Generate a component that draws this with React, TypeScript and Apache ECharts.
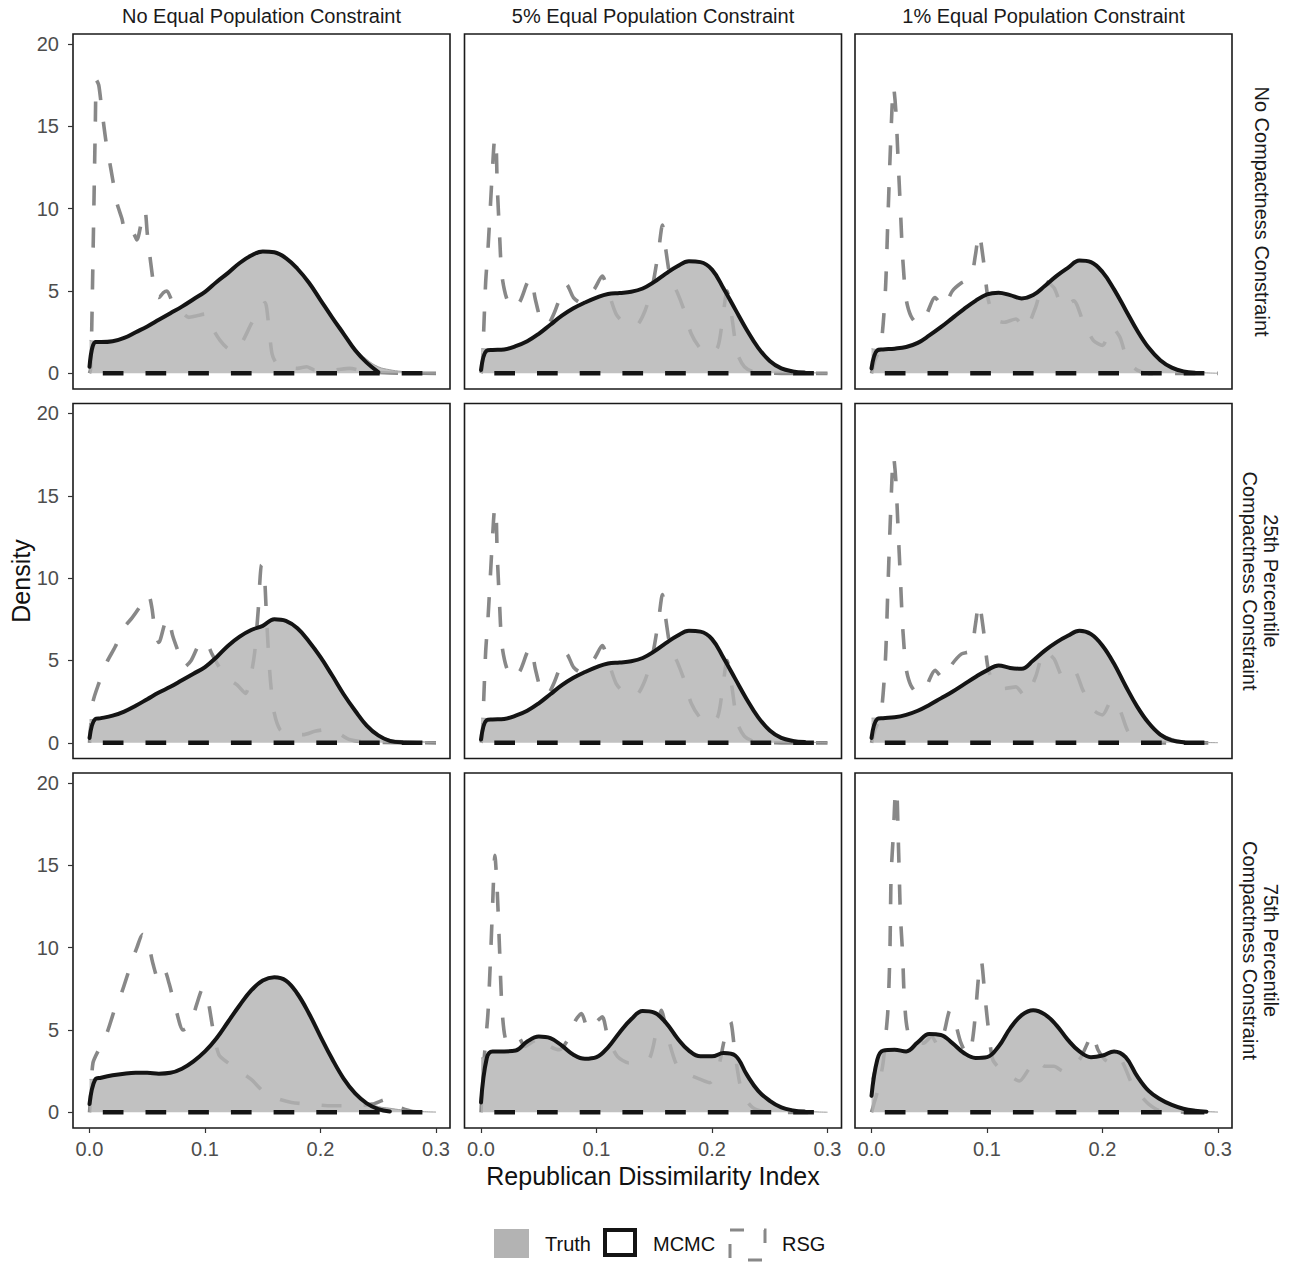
import React, { useEffect, useRef } from "react";
import * as echarts from "echarts";

// ---------- data ----------
const densityX = [0, 0.005, 0.01, 0.02, 0.03, 0.04, 0.05, 0.06, 0.07, 0.08, 0.09, 0.1, 0.11, 0.12, 0.13, 0.14, 0.15, 0.16, 0.17, 0.18, 0.19, 0.2, 0.21, 0.22, 0.23, 0.24, 0.25, 0.26, 0.27, 0.28, 0.29, 0.3];

const colTitles = ["No Equal Population Constraint", "5% Equal Population Constraint", "1% Equal Population Constraint"];
const rowTitles = ["No Compactness Constraint", "25th Percentile\nCompactness Constraint", "75th Percentile\nCompactness Constraint"];
const xTicks = [0, 0.1, 0.2, 0.3];
const yTicks = [0, 5, 10, 15, 20];
const legendNames = ["Truth", "MCMC", "RSG"];

type N = number | null;

// Row 1: No compactness
const truthR1C1: N[] = [2.0, 1.95, 1.95, 2.0, 2.2, 2.55, 2.9, 3.3, 3.7, 4.1, 4.55, 5.0, 5.55, 6.15, 6.75, 7.2, 7.4, 7.3, 6.95, 6.3, 5.45, 4.45, 3.4, 2.45, 1.55, 0.85, 0.4, 0.22, 0.12, 0.07, 0.04, 0.02];
const mcmcR1C1: N[] = [0.4, 1.9, 1.9, 1.95, 2.15, 2.5, 2.85, 3.25, 3.65, 4.05, 4.5, 4.95, 5.55, 6.1, 6.7, 7.15, 7.4, 7.35, 7.0, 6.35, 5.5, 4.45, 3.4, 2.4, 1.4, 0.65, 0.08, null, null, null, null, null];
const rsgR1C1: [number, number][] = [[0, 0], [0.001, 0.3], [0.002, 3], [0.003, 7], [0.004, 11], [0.005, 15], [0.006, 17.8], [0.008, 17.5], [0.0105, 16.1], [0.014, 14.2], [0.0165, 13.2], [0.02, 11.8], [0.0235, 10.4], [0.028, 9.4], [0.032, 8.4], [0.037, 8.6], [0.041, 8.1], [0.045, 9.2], [0.048, 9.9], [0.05, 8.5], [0.053, 6.7], [0.057, 4.8], [0.06, 4.6], [0.064, 4.9], [0.067, 5.0], [0.072, 4.3], [0.08, 3.7], [0.086, 3.4], [0.093, 3.5], [0.1, 3.6], [0.106, 2.8], [0.113, 2.0], [0.12, 1.5], [0.127, 1.4], [0.133, 2.0], [0.14, 3.0], [0.148, 4.0], [0.152, 4.3], [0.155, 3.0], [0.158, 1.2], [0.162, 0.6], [0.17, 0.4], [0.18, 0.3], [0.188, 0.4], [0.195, 0.2], [0.21, 0.2], [0.225, 0.3], [0.24, 0.1], [0.26, 0.02], [0.3, 0]];

const truthR1C2: N[] = [1.5, 1.48, 1.45, 1.5, 1.7, 2.0, 2.45, 3.0, 3.55, 4.0, 4.35, 4.65, 4.85, 4.9, 4.95, 5.15, 5.55, 6.05, 6.5, 6.8, 6.75, 6.3, 5.15, 3.9, 2.65, 1.55, 0.8, 0.35, 0.15, 0.07, 0.03, 0.01];
const mcmcR1C2: N[] = [0.2, 1.38, 1.42, 1.45, 1.65, 1.95, 2.4, 2.95, 3.5, 3.95, 4.3, 4.6, 4.82, 4.88, 4.95, 5.15, 5.55, 6.05, 6.5, 6.8, 6.75, 6.3, 5.15, 3.9, 2.65, 1.55, 0.75, 0.3, 0.12, 0.05, null, null];
const rsgR1C2: [number, number][] = [[0, 0], [0.001, 0.3], [0.002, 2], [0.004, 5.5], [0.006, 7.5], [0.008, 10], [0.01, 12.5], [0.012, 14.3], [0.013, 14.1], [0.014, 11.5], [0.016, 8.5], [0.018, 6.0], [0.022, 4.6], [0.028, 3.9], [0.034, 4.4], [0.04, 5.5], [0.043, 5.8], [0.047, 4.5], [0.052, 3.2], [0.057, 2.9], [0.063, 3.6], [0.07, 4.9], [0.074, 5.4], [0.08, 4.6], [0.086, 4.3], [0.092, 4.7], [0.098, 5.1], [0.105, 5.9], [0.11, 5.0], [0.117, 3.6], [0.125, 3.0], [0.134, 2.9], [0.142, 3.8], [0.149, 5.5], [0.154, 7.6], [0.157, 9.0], [0.16, 7.5], [0.164, 5.8], [0.17, 4.9], [0.176, 3.8], [0.182, 2.4], [0.19, 1.5], [0.198, 1.2], [0.205, 1.6], [0.209, 3.2], [0.213, 5.0], [0.217, 3.5], [0.222, 1.2], [0.228, 0.4], [0.236, 0.1], [0.26, 0], [0.3, 0]];

const truthR1C3: N[] = [1.5, 1.45, 1.45, 1.5, 1.6, 1.85, 2.3, 2.8, 3.35, 3.9, 4.4, 4.8, 4.9, 4.75, 4.55, 4.75, 5.3, 5.9, 6.4, 6.85, 6.75, 6.15, 5.1, 3.85, 2.6, 1.55, 0.85, 0.4, 0.18, 0.08, 0.03, 0.01];
const mcmcR1C3: N[] = [0.3, 1.4, 1.45, 1.5, 1.6, 1.85, 2.3, 2.8, 3.35, 3.9, 4.4, 4.8, 4.9, 4.75, 4.55, 4.75, 5.3, 5.9, 6.4, 6.85, 6.75, 6.15, 5.1, 3.85, 2.6, 1.55, 0.8, 0.35, 0.12, 0.04, null, null];
const rsgR1C3: [number, number][] = [[0, 0], [0.003, 0.8], [0.008, 1.6], [0.012, 5], [0.014, 9], [0.016, 13], [0.018, 16.5], [0.019, 17.4], [0.021, 16], [0.023, 13], [0.025, 10], [0.027, 7], [0.03, 4.5], [0.034, 3.5], [0.04, 3.0], [0.047, 3.5], [0.055, 4.6], [0.062, 4.0], [0.07, 5.0], [0.078, 5.5], [0.086, 5.8], [0.09, 7.2], [0.093, 8.5], [0.097, 6.8], [0.101, 4.5], [0.107, 3.3], [0.115, 3.1], [0.125, 3.3], [0.133, 2.7], [0.142, 4.0], [0.15, 5.6], [0.158, 5.2], [0.166, 4.0], [0.175, 4.4], [0.183, 3.2], [0.192, 2.0], [0.2, 1.7], [0.208, 2.8], [0.215, 2.2], [0.222, 0.7], [0.23, 0.2], [0.24, 0], [0.3, 0]];

// Row 2: 25th percentile compactness
const truthR2C1: N[] = [1.4, 1.45, 1.5, 1.65, 1.9, 2.25, 2.65, 3.05, 3.4, 3.8, 4.2, 4.6, 5.2, 5.9, 6.45, 6.85, 7.1, 7.5, 7.4, 6.95, 6.15, 5.2, 4.1, 2.95, 1.95, 1.05, 0.5, 0.22, 0.14, 0.1, 0.06, 0.03];
const mcmcR2C1: N[] = [0.3, 1.45, 1.5, 1.65, 1.9, 2.25, 2.65, 3.05, 3.4, 3.8, 4.2, 4.6, 5.2, 5.9, 6.45, 6.85, 7.1, 7.5, 7.4, 6.95, 6.15, 5.2, 4.1, 2.95, 1.95, 1.05, 0.45, 0.12, 0.03, null, null, null];
const rsgR2C1: [number, number][] = [[0, 0], [0.001, 1.0], [0.003, 2.5], [0.008, 3.6], [0.015, 4.9], [0.022, 5.8], [0.03, 7.0], [0.037, 7.6], [0.043, 8.2], [0.048, 8.8], [0.051, 9.0], [0.054, 8.2], [0.057, 6.6], [0.06, 6.1], [0.065, 7.2], [0.068, 7.6], [0.072, 6.5], [0.077, 5.5], [0.082, 4.6], [0.088, 5.0], [0.095, 6.0], [0.1, 6.2], [0.106, 5.4], [0.114, 4.4], [0.12, 3.9], [0.128, 3.5], [0.135, 3.0], [0.14, 4.2], [0.143, 5.5], [0.146, 8.0], [0.149, 10.8], [0.151, 10.6], [0.153, 8.0], [0.155, 5.4], [0.157, 3.5], [0.16, 1.8], [0.165, 0.8], [0.172, 0.55], [0.185, 0.5], [0.195, 0.7], [0.205, 0.8], [0.215, 0.6], [0.225, 0.2], [0.24, 0.05], [0.3, 0]];

const truthR2C2: N[] = [1.5, 1.48, 1.45, 1.5, 1.7, 2.0, 2.45, 3.0, 3.55, 4.0, 4.35, 4.65, 4.85, 4.9, 4.95, 5.15, 5.55, 6.05, 6.5, 6.8, 6.75, 6.3, 5.15, 3.9, 2.65, 1.55, 0.8, 0.35, 0.15, 0.07, 0.03, 0.01];
const mcmcR2C2: N[] = [0.2, 1.38, 1.42, 1.45, 1.65, 1.95, 2.4, 2.95, 3.5, 3.95, 4.3, 4.6, 4.82, 4.88, 4.95, 5.15, 5.55, 6.05, 6.5, 6.8, 6.75, 6.3, 5.15, 3.9, 2.65, 1.55, 0.75, 0.3, 0.12, 0.05, null, null];
const rsgR2C2: [number, number][] = [[0, 0], [0.001, 0.3], [0.002, 2], [0.004, 5.5], [0.006, 7.5], [0.008, 10], [0.01, 12.5], [0.012, 14.3], [0.013, 14.1], [0.014, 11.5], [0.016, 8.5], [0.018, 6.0], [0.022, 4.6], [0.028, 3.9], [0.034, 4.4], [0.04, 5.5], [0.043, 5.8], [0.047, 4.5], [0.052, 3.2], [0.057, 2.9], [0.063, 3.6], [0.07, 4.9], [0.074, 5.4], [0.08, 4.6], [0.086, 4.3], [0.092, 4.7], [0.098, 5.1], [0.105, 5.9], [0.11, 5.0], [0.117, 3.6], [0.125, 3.0], [0.134, 2.9], [0.142, 3.8], [0.149, 5.5], [0.154, 7.6], [0.157, 9.0], [0.16, 7.5], [0.164, 5.8], [0.17, 4.9], [0.176, 3.8], [0.182, 2.4], [0.19, 1.5], [0.198, 1.2], [0.205, 1.6], [0.209, 3.2], [0.213, 5.0], [0.217, 3.5], [0.222, 1.2], [0.228, 0.4], [0.236, 0.1], [0.26, 0], [0.3, 0]];

const truthR2C3: N[] = [1.5, 1.5, 1.5, 1.55, 1.7, 1.95, 2.3, 2.7, 3.1, 3.55, 4.0, 4.4, 4.7, 4.55, 4.5, 5.0, 5.6, 6.1, 6.5, 6.8, 6.6, 5.9, 4.8, 3.45, 2.2, 1.2, 0.6, 0.28, 0.12, 0.05, 0.02, 0.01];
const mcmcR2C3: N[] = [0.3, 1.45, 1.5, 1.55, 1.7, 1.95, 2.3, 2.7, 3.1, 3.55, 4.0, 4.4, 4.7, 4.55, 4.5, 5.0, 5.6, 6.1, 6.5, 6.8, 6.6, 5.9, 4.8, 3.45, 2.2, 1.2, 0.5, 0.15, 0.04, null, null, null];
const rsgR2C3: [number, number][] = [[0, 0], [0.003, 0.8], [0.008, 1.6], [0.012, 5], [0.014, 9], [0.016, 13], [0.018, 16.5], [0.019, 17.4], [0.021, 16], [0.023, 13], [0.025, 10], [0.027, 7], [0.03, 4.5], [0.034, 3.5], [0.04, 3.0], [0.047, 3.4], [0.055, 4.4], [0.062, 3.9], [0.07, 4.8], [0.078, 5.4], [0.086, 5.6], [0.09, 7.2], [0.093, 8.5], [0.097, 6.8], [0.101, 4.5], [0.107, 3.5], [0.115, 3.3], [0.125, 3.4], [0.133, 2.8], [0.142, 4.0], [0.15, 5.6], [0.158, 5.1], [0.166, 4.0], [0.175, 4.4], [0.183, 3.2], [0.192, 2.0], [0.2, 1.7], [0.208, 2.6], [0.215, 2.0], [0.222, 0.7], [0.23, 0.2], [0.24, 0], [0.3, 0]];

// Row 3: 75th percentile compactness
const truthR3C1: N[] = [2.0, 2.0, 2.1, 2.25, 2.35, 2.4, 2.4, 2.35, 2.4, 2.65, 3.1, 3.7, 4.5, 5.5, 6.5, 7.4, 8.0, 8.2, 8.0, 7.2, 6.0, 4.6, 3.25, 2.05, 1.15, 0.6, 0.35, 0.25, 0.15, 0.08, 0.04, 0.02];
const mcmcR3C1: N[] = [0.5, 2.0, 2.1, 2.25, 2.35, 2.4, 2.4, 2.35, 2.4, 2.65, 3.1, 3.7, 4.5, 5.5, 6.5, 7.4, 8.0, 8.2, 8.0, 7.2, 6.0, 4.6, 3.25, 2.05, 1.15, 0.55, 0.2, 0.05, null, null, null, null];
const rsgR3C1: [number, number][] = [[0, 0], [0.001, 1], [0.003, 3.0], [0.008, 3.8], [0.015, 4.8], [0.022, 6.3], [0.028, 7.3], [0.035, 8.8], [0.041, 10.0], [0.046, 10.8], [0.05, 10.5], [0.055, 9.0], [0.06, 8.0], [0.065, 8.6], [0.069, 7.8], [0.075, 6.2], [0.081, 5.0], [0.087, 5.3], [0.093, 6.6], [0.098, 7.5], [0.102, 7.0], [0.107, 5.0], [0.112, 3.5], [0.12, 3.0], [0.13, 2.5], [0.14, 2.0], [0.15, 1.3], [0.16, 0.9], [0.175, 0.6], [0.19, 0.5], [0.21, 0.4], [0.23, 0.4], [0.245, 0.5], [0.258, 0.8], [0.265, 0.4], [0.28, 0.05], [0.3, 0]];

const truthR3C2: N[] = [3.3, 3.4, 3.7, 3.7, 3.75, 4.3, 4.6, 4.5, 4.05, 3.5, 3.25, 3.35, 3.95, 4.85, 5.65, 6.15, 6.05, 5.45, 4.5, 3.75, 3.4, 3.4, 3.6, 3.45, 2.3, 1.3, 0.7, 0.35, 0.18, 0.08, 0.03, 0.01];
const mcmcR3C2: N[] = [0.6, 3.3, 3.7, 3.7, 3.75, 4.3, 4.6, 4.5, 4.05, 3.5, 3.25, 3.35, 3.95, 4.85, 5.65, 6.15, 6.05, 5.45, 4.5, 3.75, 3.4, 3.4, 3.6, 3.45, 2.3, 1.3, 0.7, 0.3, 0.12, 0.05, null, null];
const rsgR3C2: [number, number][] = [[0, 0], [0.001, 1.5], [0.003, 3.5], [0.006, 6], [0.008, 9], [0.01, 12.5], [0.012, 15.6], [0.014, 13.5], [0.016, 10], [0.018, 6.5], [0.021, 4.5], [0.026, 4.2], [0.032, 4.6], [0.038, 4.0], [0.045, 4.3], [0.052, 4.6], [0.06, 4.0], [0.068, 3.8], [0.075, 4.4], [0.082, 5.6], [0.087, 6.0], [0.093, 5.0], [0.1, 5.5], [0.105, 5.8], [0.11, 4.5], [0.118, 3.4], [0.128, 3.0], [0.138, 3.2], [0.146, 3.3], [0.152, 5.0], [0.156, 6.2], [0.162, 4.5], [0.17, 2.8], [0.18, 2.3], [0.19, 2.0], [0.198, 1.8], [0.205, 2.6], [0.211, 4.5], [0.216, 5.5], [0.22, 3.5], [0.226, 1.2], [0.235, 0.3], [0.25, 0], [0.3, 0]];

const truthR3C3: N[] = [2.0, 3.2, 3.75, 3.8, 3.7, 4.25, 4.75, 4.7, 4.2, 3.6, 3.3, 3.35, 4.0, 5.1, 5.9, 6.2, 5.95, 5.3, 4.4, 3.7, 3.35, 3.45, 3.7, 3.35, 2.2, 1.3, 0.8, 0.45, 0.22, 0.1, 0.05, 0.02];
const mcmcR3C3: N[] = [1.0, 3.2, 3.75, 3.8, 3.7, 4.25, 4.75, 4.7, 4.2, 3.6, 3.3, 3.35, 4.0, 5.1, 5.9, 6.2, 5.95, 5.3, 4.4, 3.7, 3.35, 3.45, 3.7, 3.35, 2.2, 1.3, 0.8, 0.45, 0.22, 0.1, 0.04, null];
const rsgR3C3: [number, number][] = [[0, 0], [0.002, 0.5], [0.006, 1.5], [0.01, 3.0], [0.012, 4.4], [0.014, 6.0], [0.015, 7.5], [0.016, 10], [0.0165, 12.5], [0.017, 14.5], [0.019, 17], [0.021, 19.6], [0.022, 19.4], [0.023, 17], [0.024, 14.5], [0.025, 12], [0.027, 9.5], [0.028, 7.5], [0.03, 5.5], [0.033, 4.5], [0.038, 4.2], [0.045, 4.2], [0.052, 4.6], [0.058, 4.0], [0.063, 4.9], [0.068, 6.2], [0.072, 5.6], [0.077, 4.3], [0.083, 3.5], [0.087, 4.2], [0.09, 6.0], [0.093, 8.5], [0.095, 9.2], [0.098, 7.2], [0.101, 5.2], [0.105, 3.2], [0.112, 2.6], [0.12, 2.2], [0.128, 1.9], [0.136, 2.6], [0.143, 3.2], [0.15, 2.8], [0.158, 2.8], [0.166, 2.5], [0.174, 2.7], [0.181, 3.3], [0.187, 4.2], [0.191, 4.8], [0.196, 3.8], [0.202, 3.2], [0.208, 3.0], [0.214, 3.4], [0.219, 2.8], [0.225, 1.8], [0.232, 1.1], [0.24, 0.5], [0.25, 0.1], [0.3, 0]];

const zeroLineX = [0.0115, 0.29];

const panels = [
  { truth: truthR1C1, mcmc: mcmcR1C1, rsg: rsgR1C1 },
  { truth: truthR1C2, mcmc: mcmcR1C2, rsg: rsgR1C2 },
  { truth: truthR1C3, mcmc: mcmcR1C3, rsg: rsgR1C3 },
  { truth: truthR2C1, mcmc: mcmcR2C1, rsg: rsgR2C1 },
  { truth: truthR2C2, mcmc: mcmcR2C2, rsg: rsgR2C2 },
  { truth: truthR2C3, mcmc: mcmcR2C3, rsg: rsgR2C3 },
  { truth: truthR3C1, mcmc: mcmcR3C1, rsg: rsgR3C1 },
  { truth: truthR3C2, mcmc: mcmcR3C2, rsg: rsgR3C2 },
  { truth: truthR3C3, mcmc: mcmcR3C3, rsg: rsgR3C3 },
];

// ---------- layout ----------
const FONT = "Liberation Sans, Arial, Helvetica, sans-serif";
const colLeft = [73, 464.5, 855];
const rowTop = [34, 403.5, 773];
const PW = 377;
const PH = 355;
const TRUTH_FILL = "#b3b3b3";
const RSG_COLOR = "#888888";
const INK = "#141414";

function pairs(ys: N[]): [number, number][] {
  const out: [number, number][] = [];
  ys.forEach((y, i) => {
    if (y !== null) out.push([densityX[i], y]);
  });
  return out;
}

export default function App() {
  const ref = useRef<HTMLDivElement>(null);

  useEffect(() => {
    if (!ref.current) return;
    const chart = echarts.init(ref.current, undefined, { renderer: "svg" });

    const grid: any[] = [];
    const xAxis: any[] = [];
    const yAxis: any[] = [];
    const series: any[] = [];

    panels.forEach((p, k) => {
      const r = Math.floor(k / 3);
      const c = k % 3;
      grid.push({
        left: colLeft[c],
        top: rowTop[r],
        width: PW,
        height: PH,
        show: true,
        borderColor: "#1a1a1a",
        borderWidth: 1.6,
        backgroundColor: "transparent",
        containLabel: false,
      });
      const bottom = r === 2;
      xAxis.push({
        type: "value",
        gridIndex: k,
        position: "bottom",
        min: -0.0143,
        max: 0.3121,
        splitLine: { show: false },
        axisLine: { show: false, onZero: false },
        axisTick: { show: bottom, length: 5, lineStyle: { color: "#333", width: 1.2 }, customValues: xTicks },
        axisLabel: {
          show: bottom,
          customValues: xTicks,
          formatter: (v: number) => v.toFixed(1),
          margin: 11,
          fontSize: 20,
          color: "#4d4d4d",
          fontFamily: FONT,
        },
      });
      const left = c === 0;
      yAxis.push({
        type: "value",
        gridIndex: k,
        position: "left",
        min: -0.95,
        max: 20.6,
        splitLine: { show: false },
        axisLine: { show: false, onZero: false },
        axisTick: { show: left, length: 5, lineStyle: { color: "#333", width: 1.2 }, customValues: yTicks },
        axisLabel: {
          show: left,
          customValues: yTicks,
          margin: 14,
          fontSize: 20,
          color: "#4d4d4d",
          fontFamily: FONT,
        },
      });

      series.push({
        name: "RSG",
        type: "line",
        xAxisIndex: k,
        yAxisIndex: k,
        data: p.rsg,
        smooth: 0.25,
        showSymbol: false,
        silent: true,
        lineStyle: { color: RSG_COLOR, width: 3.6, type: [20, 22] },
        z: 2,
      });
      series.push({
        name: "Truth",
        type: "line",
        xAxisIndex: k,
        yAxisIndex: k,
        data: pairs(p.truth),
        smooth: 0.4,
        showSymbol: false,
        silent: true,
        lineStyle: { color: "#a0a0a0", width: 1 },
        areaStyle: { color: TRUTH_FILL, opacity: 0.82 },
        z: 3,
      });
      series.push({
        name: "zero",
        type: "line",
        xAxisIndex: k,
        yAxisIndex: k,
        data: zeroLineX.map((x) => [x, 0]),
        showSymbol: false,
        silent: true,
        lineStyle: { color: INK, width: 4.5, type: [20.7, 22] },
        z: 4,
      });
      series.push({
        name: "MCMC",
        type: "line",
        xAxisIndex: k,
        yAxisIndex: k,
        data: pairs(p.mcmc),
        smooth: 0.4,
        showSymbol: false,
        silent: true,
        lineStyle: { color: INK, width: 4, cap: "round", join: "round" },
        z: 5,
      });
    });

    const graphic: any[] = [];
    colTitles.forEach((t, c) => {
      graphic.push({
        type: "text",
        x: colLeft[c] + PW / 2,
        y: 16,
        style: { text: t, fontSize: 20, fontFamily: FONT, fill: "#1a1a1a", align: "center", verticalAlign: "middle" },
      });
    });
    rowTitles.forEach((t, r) => {
      graphic.push({
        type: "text",
        x: t.includes("\n") ? 1260 : 1262,
        y: rowTop[r] + PH / 2,
        rotation: -Math.PI / 2,
        style: { text: t, fontSize: 20, lineHeight: 21, fontFamily: FONT, fill: "#1a1a1a", align: "center", verticalAlign: "middle" },
      });
    });
    graphic.push({
      type: "text",
      x: 21,
      y: 581,
      rotation: Math.PI / 2,
      style: { text: "Density", fontSize: 25, fontFamily: FONT, fill: "#111", align: "center", verticalAlign: "middle" },
    });
    graphic.push({
      type: "text",
      x: 653,
      y: 1176,
      style: { text: "Republican Dissimilarity Index", fontSize: 25, fontFamily: FONT, fill: "#111", align: "center", verticalAlign: "middle" },
    });
    // legend
    graphic.push({ type: "rect", shape: { x: 494, y: 1229, width: 35, height: 29 }, style: { fill: TRUTH_FILL } });
    graphic.push({
      type: "text", x: 545, y: 1244,
      style: { text: legendNames[0], fontSize: 20, fontFamily: FONT, fill: "#111", verticalAlign: "middle" },
    });
    graphic.push({ type: "rect", shape: { x: 605, y: 1230, width: 30, height: 25 }, style: { fill: "#fff", stroke: INK, lineWidth: 4 } });
    graphic.push({
      type: "text", x: 653, y: 1244,
      style: { text: legendNames[1], fontSize: 20, fontFamily: FONT, fill: "#111", verticalAlign: "middle" },
    });
    graphic.push({
      type: "rect", shape: { x: 730, y: 1230, width: 35, height: 30 },
      style: { fill: "none", stroke: RSG_COLOR, lineWidth: 3, lineDash: [14, 20] },
    });
    graphic.push({
      type: "text", x: 782, y: 1244,
      style: { text: legendNames[2], fontSize: 20, fontFamily: FONT, fill: "#111", verticalAlign: "middle" },
    });

    chart.setOption({
      animation: false,
      backgroundColor: "#ffffff",
      grid,
      xAxis,
      yAxis,
      series,
      graphic,
    });

    return () => chart.dispose();
  }, []);

  return <div ref={ref} style={{ position: "absolute", left: 0, top: 0, width: 1289, height: 1268 }} />;
}
